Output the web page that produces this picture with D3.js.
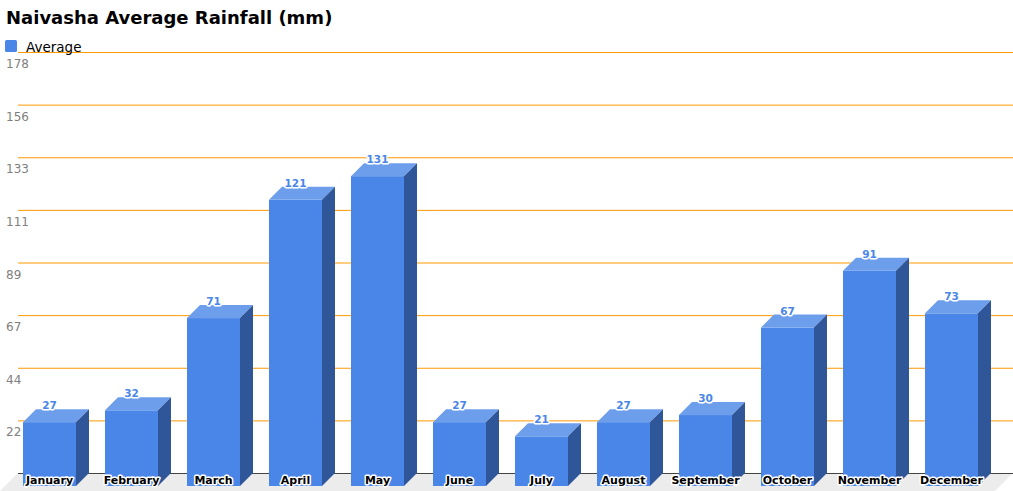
<!DOCTYPE html>
<html>
<head>
<meta charset="utf-8">
<script src="https://cdn.jsdelivr.net/npm/d3@7"></script>
<style>
  html, body { margin: 0; padding: 0; background: #fff; }
  svg { display: block; font-family: "DejaVu Sans", Verdana, sans-serif; }
</style>
</head>
<body>
<svg id="chart" width="1013" height="491"></svg>
<script>
// chart data
const months = ["January", "February", "March", "April", "May", "June",
    "July", "August", "September", "October", "November", "December"];
const rainfall = [27, 32, 71, 121, 131, 27, 21, 27, 30, 67, 91, 73];
const tickValues = [22.25, 44.5, 66.75, 89, 111.25, 133.5, 155.75, 178];
const tickLabels = ["22", "44", "67", "89", "111", "133", "156", "178"];

const svg = d3.select("#chart");
const depth = 13;
const left = 18, right = 1013;
const colors = { front: "#4a86e8", top: "#6d9eeb", side: "#2f5699", grid: "#ff9900" };

const x = d3.scaleBand()
    .domain(months)
    .range([left, 1009])
    .paddingInner(29 / 82)
    .paddingOuter(18 / 82);

const y = d3.scaleLinear().domain([0, 178]).range([473, 52]);
const y0 = y(0);

// floor
svg.append("polygon")
    .attr("points", [[left, y0], [right, y0], [right - 18, y0 + 18], [0, y0 + 18]].join(" "))
    .attr("fill", "#ececec");

// gridlines + tick labels
svg.selectAll(".grid").data(tickValues).enter().append("line")
    .attr("class", "grid")
    .attr("x1", left).attr("x2", right)
    .attr("y1", d => y(d) + 0.5).attr("y2", d => y(d) + 0.5)
    .attr("stroke", colors.grid).attr("stroke-width", 1);

svg.selectAll(".tick").data(tickValues).enter().append("text")
    .attr("class", "tick")
    .attr("x", 6)
    .attr("y", d => y(d) + 16)
    .attr("font-size", 12)
    .attr("fill", "#808080")
    .text((d, i) => tickLabels[i]);

svg.append("line")
    .attr("x1", left).attr("x2", right)
    .attr("y1", y0 + 0.5).attr("y2", y0 + 0.5)
    .attr("stroke", "#444").attr("stroke-width", 1);

// title + legend
svg.append("text")
    .attr("x", 6).attr("y", 24)
    .attr("font-size", 18).attr("font-weight", "bold")
    .text("Naivasha Average Rainfall (mm)");

svg.append("rect")
    .attr("x", 5).attr("y", 40).attr("width", 12).attr("height", 12)
    .attr("rx", 1.5).attr("fill", colors.front);

svg.append("text")
    .attr("x", 26).attr("y", 52)
    .attr("font-size", 13.5)
    .text("Average");

// 3d bars
const bars = svg.selectAll(".bar")
    .data(months.map((m, i) => ({ month: m, value: rainfall[i] })))
    .enter().append("g")
    .attr("class", "bar");

bars.each(function (d) {
    const g = d3.select(this);
    const bx = x(d.month), w = x.bandwidth(), yt = y(d.value);
    g.append("rect")
        .attr("x", bx - depth).attr("y", yt + depth)
        .attr("width", w).attr("height", y0 - yt)
        .attr("fill", colors.front);
    g.append("polygon")
        .attr("points", [[bx - depth, yt + depth], [bx, yt], [bx + w, yt], [bx + w - depth, yt + depth]].join(" "))
        .attr("fill", colors.top);
    g.append("polygon")
        .attr("points", [[bx + w - depth, yt + depth], [bx + w, yt], [bx + w, y0], [bx + w - depth, y0 + depth]].join(" "))
        .attr("fill", colors.side);
});

// value labels
svg.selectAll(".value").data(rainfall).enter().append("text")
    .attr("class", "value")
    .attr("x", (d, i) => x(months[i]) - depth + x.bandwidth() / 2)
    .attr("y", d => y(d))
    .attr("text-anchor", "middle")
    .attr("font-size", 10.5).attr("font-weight", "bold")
    .attr("fill", colors.front)
    .attr("stroke", "#fff").attr("stroke-width", 3)
    .attr("paint-order", "stroke")
    .attr("stroke-linejoin", "round")
    .text(d => d);

// category labels
svg.selectAll(".cat").data(months).enter().append("text")
    .attr("class", "cat")
    .attr("x", d => x(d) - depth + x.bandwidth() / 2)
    .attr("y", 484)
    .attr("text-anchor", "middle")
    .attr("font-size", 11).attr("font-weight", "bold")
    .attr("fill", "#000")
    .attr("stroke", "#fff").attr("stroke-width", 3)
    .attr("paint-order", "stroke")
    .attr("stroke-linejoin", "round")
    .text(d => d);
</script>
</body>
</html>
